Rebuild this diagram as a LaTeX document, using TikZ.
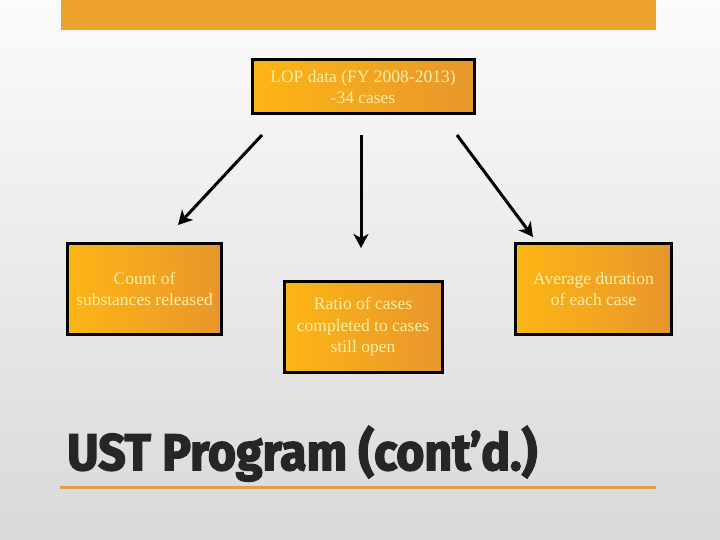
\documentclass[tikz,border=0pt]{standalone}
\usepackage{fontspec}
\setmainfont{Liberation Serif}
\newfontfamily\titlefont[FakeBold=3]{Fira Sans}
\usetikzlibrary{arrows.meta}
\definecolor{barorange}{HTML}{EDA22E}
\definecolor{boxlight}{HTML}{FDB515}
\definecolor{boxdark}{HTML}{E8962C}
\definecolor{boxtext}{HTML}{FFEFA8}
\definecolor{titlegray}{HTML}{262626}
\definecolor{lineorange}{HTML}{E0A04A}
\tikzset{
  infobox/.style={draw=black, line width=3pt, left color=boxlight, right color=boxdark,
    text=boxtext, font=\fontsize{17.5}{21.5}\selectfont, align=center, inner sep=0pt},
  flowarrow/.style={draw=black, line width=3pt, -{Stealth[length=14pt,width=15pt,inset=4pt]}}
}
\begin{document}
\begin{tikzpicture}[x=1pt,y=-1pt]
\useasboundingbox (0,0) rectangle (720,540);
\shade[top color=white!97!gray, bottom color=black!15] (0,0) rectangle (720,540);
\fill[barorange] (61,0) rectangle (656,30);
% boxes
\node[infobox, minimum width=222pt, minimum height=54pt] (top) at (363,87) {LOP data (FY 2008-2013)\\-34 cases};
\node[infobox, minimum width=154pt, minimum height=91pt] (left) at (144.5,289) {Count of\\substances released};
\node[infobox, minimum width=158pt, minimum height=91pt] (mid) at (363,327) {Ratio of cases\\completed to cases\\still open};
\node[infobox, minimum width=156pt, minimum height=91pt] (right) at (593.5,289) {Average duration\\of each case};
% arrow end points
\coordinate (a1s) at (262,135); \coordinate (a1e) at (178,225);
\coordinate (a2s) at (361,135); \coordinate (a2e) at (361,248);
\coordinate (a3s) at (457,135); \coordinate (a3e) at (533,237);
\draw[flowarrow] (a1s) -- (a1e);
\draw[flowarrow] (a2s) -- (a2e);
\draw[flowarrow] (a3s) -- (a3e);
% title
\node[anchor=base west, inner sep=0pt, text=titlegray] (title) at (67,470)
  {\resizebox{470pt}{44pt}{\titlefont\bfseries UST Program (cont’d.)}};
\coordinate (ul1) at (60,487); \coordinate (ul2) at (656,487);
\draw[lineorange, line width=3pt] (ul1) -- (ul2);
\end{tikzpicture}
\end{document}
